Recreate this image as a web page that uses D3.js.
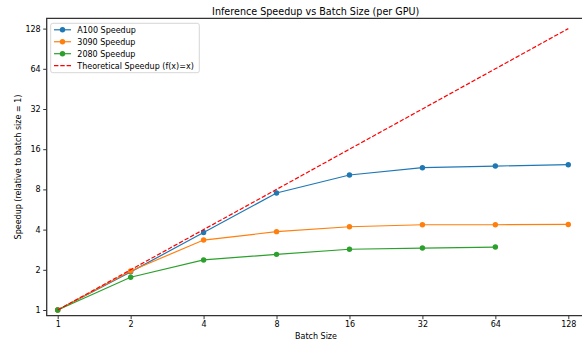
<!DOCTYPE html>
<html><head><meta charset="utf-8">
<script src="https://cdn.jsdelivr.net/npm/d3@7"></script>
<style>
body{margin:0;background:#fff;}
text{font-family:"DejaVu Sans",sans-serif;fill:#000;}
</style></head>
<body><svg id="c" width="582" height="342"></svg>
<script>
const batchSizes = [1, 2, 4, 8, 16, 32, 64, 128];
const a100 = [1, 1.93, 3.8, 7.52, 10.26, 11.63, 11.97, 12.25];
const rtx3090 = [1, 1.96, 3.34, 3.86, 4.2, 4.35, 4.35, 4.37];
const rtx2080 = [1, 1.76, 2.37, 2.61, 2.85, 2.91, 2.96];
const theoretical = [1, 2, 4, 8, 16, 32, 64, 128];
const xTicks = [1, 2, 4, 8, 16, 32, 64, 128];
const yTicks = [1, 2, 4, 8, 16, 32, 64, 128];
const seriesNames = ["A100 Speedup", "3090 Speedup", "2080 Speedup", "Theoretical Speedup (f(x)=x)"];
const colors = ["#1f77b4", "#ff7f0e", "#2ca02c", "#ff0000"];

const svg = d3.select("#c");
const L = 46.7, T = 18.3, B = 315.7, R = 584;
const x = d3.scaleLog().base(2).domain([1, 128]).range([57.7, 568.3]);
const y = d3.scaleLog().base(2).domain([1, 128]).range([310, 28.6]);

// axes
const xa = svg.append("g").attr("transform", `translate(0,${B})`)
  .call(d3.axisBottom(x).tickValues(xTicks).tickFormat(d3.format("d")).tickSize(3.5).tickPadding(2.5));
const ya = svg.append("g").attr("transform", `translate(${L},0)`)
  .call(d3.axisLeft(y).tickValues(yTicks).tickFormat(d3.format("d")).tickSize(3.5).tickPadding(2.5));
[xa, ya].forEach(g => {
  g.select(".domain").remove();
  g.selectAll("line").attr("stroke", "#000").attr("stroke-width", 0.8);
  g.selectAll("text").attr("font-size", "8px").attr("font-family", "DejaVu Sans").attr("fill", "#000");
});

const line = d3.line().x((d, i) => x(batchSizes[i])).y(d => y(d));
const data = [a100, rtx3090, rtx2080];
data.forEach((s, k) => {
  svg.append("path").attr("d", line(s)).attr("fill", "none")
    .attr("stroke", colors[k]).attr("stroke-width", 1.2);
  svg.selectAll(null).data(s).enter().append("circle")
    .attr("cx", (d, i) => x(batchSizes[i])).attr("cy", d => y(d)).attr("r", 2.7)
    .attr("fill", colors[k]);
});
svg.append("path").attr("d", line(theoretical)).attr("fill", "none")
  .attr("stroke", colors[3]).attr("stroke-width", 1.2).attr("stroke-dasharray", "4.4,1.9");

// spines
svg.append("path").attr("d", `M${R},${T}H${L}V${B}H${R}`).attr("fill", "none")
  .attr("stroke", "#333").attr("stroke-width", 1.3);

// title & labels
svg.append("text").attr("x", 315.7).attr("y", 14.6).attr("text-anchor", "middle")
  .attr("font-size", "9.6px").text("Inference Speedup vs Batch Size (per GPU)");
svg.append("text").attr("x", 316).attr("y", 338.5).attr("text-anchor", "middle")
  .attr("font-size", "8px").text("Batch Size");
svg.append("text").attr("transform", `translate(21,167) rotate(-90)`).attr("text-anchor", "middle")
  .attr("font-size", "8px").text("Speedup (relative to batch size = 1)");

// legend
const lg = svg.append("g");
lg.append("rect").attr("x", 50.7).attr("y", 23.3).attr("width", 148.6).attr("height", 49.4)
  .attr("rx", 2).attr("fill", "#fff").attr("fill-opacity", 0.8).attr("stroke", "#ccc").attr("stroke-width", 0.8);
seriesNames.forEach((n, i) => {
  const yy = 29.8 + 11.95 * i;
  lg.append("line").attr("x1", 54).attr("x2", 71).attr("y1", yy).attr("y2", yy)
    .attr("stroke", colors[i]).attr("stroke-width", 1.2)
    .attr("stroke-dasharray", i === 3 ? "4.4,1.9" : null);
  if (i < 3) lg.append("circle").attr("cx", 62.5).attr("cy", yy).attr("r", 2.7).attr("fill", colors[i]);
  lg.append("text").attr("x", 77.3).attr("y", yy + 2.9).attr("font-size", "8px").text(n);
});
</script></body></html>
